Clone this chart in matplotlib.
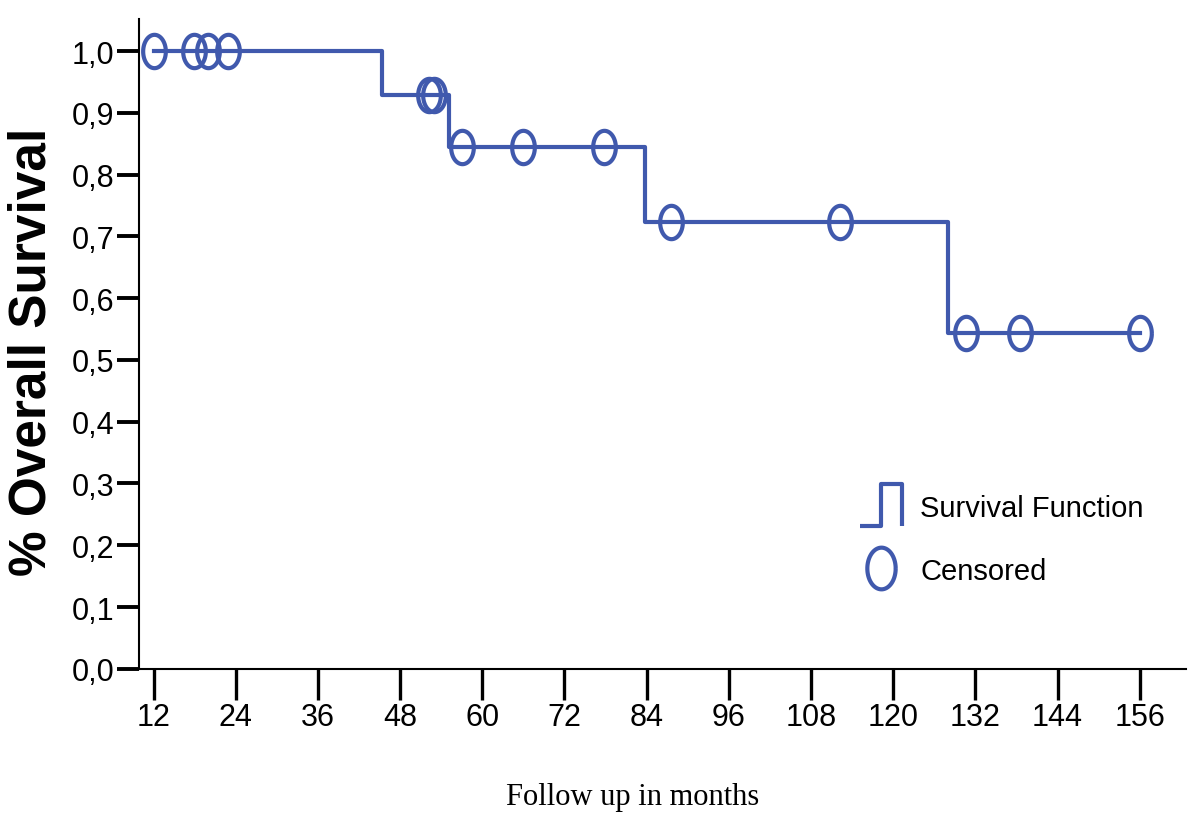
import numpy as np
import matplotlib
matplotlib.use('Agg')
import matplotlib.pyplot as plt
from matplotlib.path import Path
from matplotlib.lines import Line2D

# Kaplan-Meier step curve (months, survival)
step_months = [12.0, 45.3, 55.1, 83.7, 128.0, 156.0]
step_surv = [1.0, 0.929, 0.845, 0.724, 0.543, 0.543]

# censored observations
cens_months = [12.0, 17.9, 20.0, 22.9, 52.2, 53.0, 57.0, 65.9, 77.7,
               87.6, 112.3, 130.6, 138.5, 156.1]
cens_surv = [1.0, 1.0, 1.0, 1.0, 0.929, 0.929, 0.845, 0.845, 0.845,
             0.724, 0.724, 0.543, 0.543, 0.543]

x_ticks = [12, 24, 36, 48, 60, 72, 84, 96, 108, 120, 132, 144, 156]
y_ticks = [0.0, 0.1, 0.2, 0.3, 0.4, 0.5, 0.6, 0.7, 0.8, 0.9, 1.0]

blue = '#4059ad'
sans = ['Liberation Sans', 'DejaVu Sans']

# tall ellipse marker and step marker for legend
t = np.linspace(0, 2 * np.pi, 80)
ellipse = Path(np.column_stack([0.68 * np.cos(t), np.sin(t)]))
step_sym = Path([(-1, -1), (0, -1), (0, 1), (1, 1), (1, -1)])

fig = plt.figure(figsize=(12, 8.29), dpi=100)
ax = fig.add_axes([0.116, 0.192, 0.872, 0.784])

ax.step(step_months, step_surv, where='post', color=blue, lw=3.0)
ax.plot(cens_months, cens_surv, ls='none', marker=ellipse, ms=24,
        mfc='none', mec=blue, mew=3.0)

ax.set_xlim(9.9, 162.7)
ax.set_ylim(0, 1.052)
ax.set_xticks(x_ticks)
ax.set_yticks(y_ticks)
ax.set_yticklabels([('%.1f' % v).replace('.', ',') for v in y_ticks])

for s in ['top', 'right']:
    ax.spines[s].set_visible(False)
for s in ['left', 'bottom']:
    ax.spines[s].set_linewidth(1.5)

ax.tick_params(axis='x', direction='out', length=22, width=2.4, pad=2)
ax.tick_params(axis='y', direction='out', length=16, width=2.8, pad=2)
for lab in ax.get_xticklabels() + ax.get_yticklabels():
    lab.set_family(sans)
    lab.set_fontsize(22)

ax.set_ylabel('% Overall Survival', fontsize=37, fontweight='bold',
              family=sans)
ax.yaxis.set_label_coords(-0.079, (670 - 352) / 650.0)
ax.set_xlabel('Follow up in months', fontsize=22,
              family=['Liberation Serif', 'DejaVu Serif'])
ax.xaxis.set_label_coords((632 - 139) / 1046.0, -(798 - 670) / 650.0)
ax.xaxis.label.set_verticalalignment('center')

handles = [
    Line2D([], [], ls='none', marker=step_sym, ms=30, mfc='none',
           mec=blue, mew=3.0),
    Line2D([], [], ls='none', marker=ellipse, ms=30, mfc='none',
           mec=blue, mew=3.0),
]
leg = ax.legend(handles, ['Survival Function', 'Censored'],
                loc='upper left', bbox_to_anchor=(0.663, 0.31),
                frameon=False, handlelength=1.5, handletextpad=0.6,
                labelspacing=1.2, prop={'family': sans, 'size': 21})

fig.savefig('out.png', dpi=100)
